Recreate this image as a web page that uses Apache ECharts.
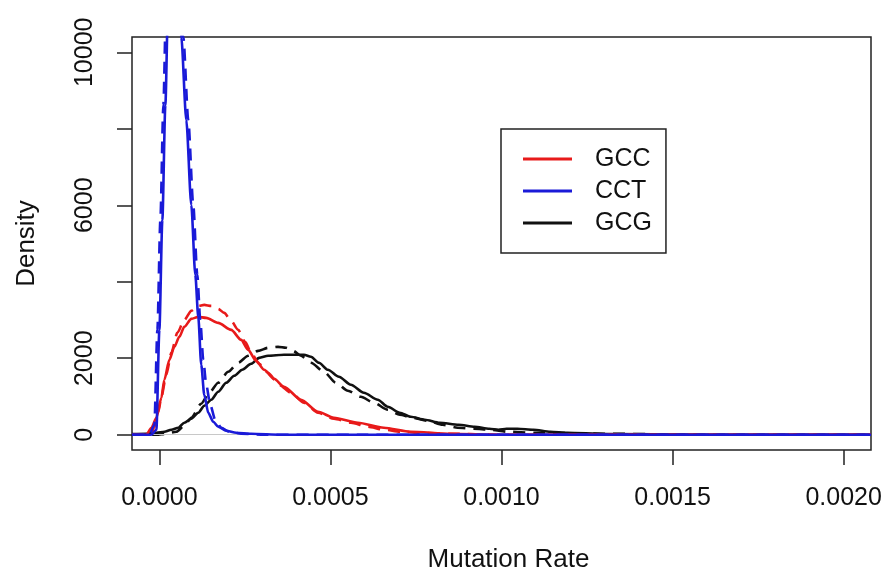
<!DOCTYPE html>
<html>
<head>
<meta charset="utf-8">
<script src="https://cdn.jsdelivr.net/npm/echarts@6/dist/echarts.min.js"></script>
<style>html,body{margin:0;padding:0;background:#fff;}#c{width:886px;height:571px;}</style>
</head>
<body>
<div id="c"></div>
<script>
// ---- data ----
var seriesNames = ['GCC', 'CCT', 'GCG'];
var xTicks = [0, 0.0005, 0.001, 0.0015, 0.002];
var xTickLabels = ['0.0000', '0.0005', '0.0010', '0.0015', '0.0020'];
var yTicks = [0, 2000, 4000, 6000, 8000, 10000];
var yTickLabels = [0, 2000, 6000, 10000];

// GCC empirical (solid)
var gccX = [-0.00008, -0.000058, -0.000038, -0.000023, -0.0000087, 0.0000058, 0.0000146, 0.0000292, 0.0000437, 0.0000583, 0.0000729, 0.0000933, 0.0001137, 0.0001370, 0.0001720, 0.0002099, 0.0002390, 0.0002595, 0.0002828, 0.0003061, 0.0003353, 0.0003644, 0.0004140, 0.0004636, 0.0005102, 0.0005802, 0.0006560, 0.0007347, 0.0008513, 0.0009971, 0.0013, 0.0016, 0.00208];
var gccY = [0, 0, 0, 183, 444, 966, 1436, 1958, 2298, 2559, 2820, 3029, 3081, 3055, 2924, 2742, 2480, 2219, 1932, 1697, 1462, 1253, 914, 600, 444, 313, 183, 78, 26, 0, 0, 0, 0];
// GCC fitted (dashed)
var gccFitX = [-0.00008, -0.000038, -0.000023, -0.0000146, -0.0000029, 0.0000058, 0.0000204, 0.0000350, 0.0000525, 0.0000729, 0.0000933, 0.0001137, 0.0001312, 0.0001516, 0.0001720, 0.0001895, 0.0002099, 0.0002303, 0.0002507, 0.0002682, 0.0002915, 0.0003178, 0.0003499, 0.0003848, 0.0004227, 0.0004636, 0.0005102, 0.0005598, 0.0006093, 0.0006560, 0.0007055, 0.0007551, 0.0008513, 0.0010, 0.0013, 0.0016, 0.00208];
var gccFitY = [0, 0, 52, 209, 600, 992, 1567, 2141, 2663, 3003, 3238, 3368, 3394, 3368, 3290, 3185, 2977, 2742, 2428, 2141, 1854, 1619, 1306, 1097, 836, 574, 418, 313, 209, 131, 78, 52, 26, 0, 0, 0, 0];

// CCT empirical (solid)
var cctX = [-0.00008, -0.0000233, -0.0000087, 0, 0.0000087, 0.0000175, 0.0000262, 0.0000379, 0.0000525, 0.0000641, 0.0000787, 0.0000933, 0.000105, 0.0001137, 0.0001224, 0.0001312, 0.0001429, 0.0001574, 0.000172, 0.0001953, 0.0002245, 0.0002682, 0.0003557, 0.0006, 0.0010, 0.0015, 0.00208];
var cctY = [0, 0, 130, 2740, 5610, 8620, 11620, 14000, 12140, 10390, 8225, 6005, 4180, 3080, 1830, 1045, 575, 340, 210, 105, 52, 26, 0, 0, 0, 0, 0];
// CCT fitted (dashed)
var cctFitX = [-0.00008, -0.0000292, -0.0000146, -0.0000058, 0.0000029, 0.0000117, 0.0000204, 0.0000321, 0.0000496, 0.0000700, 0.0000845, 0.0000991, 0.0001108, 0.0001195, 0.0001283, 0.0001370, 0.0001487, 0.0001633, 0.0001808, 0.0002041, 0.0002391, 0.0002974, 0.0006, 0.0010, 0.0015, 0.00208];
var cctFitY = [0, 0, 260, 2740, 5610, 8620, 11620, 14200, 12140, 10390, 8225, 6005, 4180, 3000, 1960, 1305, 783, 390, 183, 78, 26, 0, 0, 0, 0, 0];

// GCG empirical (solid)
var gcgX = [-0.00008, -0.0000379, -0.0000087, 0.0000146, 0.0000350, 0.0000554, 0.0000729, 0.0000933, 0.0001137, 0.0001312, 0.0001516, 0.0001720, 0.0001953, 0.0002187, 0.0002420, 0.0002682, 0.0002915, 0.0003178, 0.0003644, 0.0004052, 0.0004227, 0.0004431, 0.0004665, 0.0004927, 0.0005248, 0.0005598, 0.0005977, 0.0006385, 0.0006676, 0.0007026, 0.0007347, 0.0007755, 0.0008192, 0.0008746, 0.0009213, 0.0009644, 0.0009913, 0.0010146, 0.0010466, 0.0010933, 0.0011429, 0.0011924, 0.0013, 0.0016, 0.00208];
var gcgY = [20, 26, 52, 78, 131, 183, 313, 418, 574, 757, 914, 1123, 1358, 1540, 1697, 1854, 2010, 2063, 2089, 2089, 2089, 2037, 1880, 1697, 1514, 1306, 1097, 914, 731, 574, 470, 392, 313, 261, 209, 157, 131, 157, 157, 131, 78, 52, 20, 0, 0];
// GCG fitted (dashed)
var gcgFitX = [-0.00008, -0.0000087, 0.0000204, 0.0000496, 0.0000729, 0.0000933, 0.0001224, 0.0001458, 0.0001720, 0.0002012, 0.0002303, 0.0002595, 0.0002886, 0.0003178, 0.0003469, 0.0003703, 0.0003907, 0.0004140, 0.0004431, 0.0004810, 0.0005160, 0.0005510, 0.0005889, 0.0006268, 0.0006676, 0.0007026, 0.0007405, 0.0007843, 0.0008280, 0.0008717, 0.0009184, 0.0009679, 0.0010175, 0.0010962, 0.0013, 0.0016, 0.00208];
var gcgFitY = [0, 0, 26, 78, 235, 444, 810, 1097, 1358, 1645, 1880, 2063, 2193, 2272, 2298, 2272, 2193, 2063, 1880, 1645, 1358, 1149, 992, 836, 653, 522, 444, 366, 261, 183, 157, 131, 78, 52, 26, 0, 0, 0];

// ---- chart ----
function pairs(xs, ys) { var out = []; for (var i = 0; i < xs.length; i++) out.push([xs[i], ys[i]]); return out; }
var colors = { GCC: '#e81a1a', CCT: '#1a1ad8', GCG: '#111111' };
var font = 'Liberation Sans, Arial, sans-serif';

function lineSeries(name, data, color, dashed, z) {
  return {
    type: 'line', name: name, data: data, showSymbol: false, symbol: 'none',
    smooth: 0.25, smoothMonotone: 'x', clip: true, z: z, animation: false,
    lineStyle: { color: color, width: 2.6, type: dashed ? [12, 8] : 'solid' },
    itemStyle: { color: color }
  };
}

var chart = echarts.init(document.getElementById('c'), null, { renderer: 'canvas' });
chart.setOption({
  animation: false,
  backgroundColor: '#ffffff',
  grid: { left: 132, right: 15, top: 37, bottom: 121, show: true, borderColor: '#222', borderWidth: 1.5, backgroundColor: 'transparent', containLabel: false, outerBoundsMode: 'none' },
  legend: {
    data: seriesNames, orient: 'vertical', left: 501, top: 129,
    icon: 'rect', itemWidth: 49, itemHeight: 3, itemGap: 6,
    padding: [17, 14, 17, 22], borderColor: '#222', borderWidth: 1.5,
    textStyle: { fontFamily: font, fontSize: 25, color: '#111', lineHeight: 26, padding: [0, 0, 0, 18] },
    selectedMode: false
  },
  xAxis: {
    type: 'value', min: -0.00008, max: 0.00208,
    name: 'Mutation Rate', nameLocation: 'middle', nameGap: 97,
    nameTextStyle: { fontFamily: font, fontSize: 26, color: '#111', verticalAlign: 'top', padding: [0, 0, 0, 14] },
    axisLine: { show: false, onZero: false },
    axisTick: { show: true, inside: false, length: 15, lineStyle: { color: '#222', width: 1.5 }, customValues: xTicks },
    axisLabel: {
      fontFamily: font, fontSize: 25, color: '#111', margin: 36, customValues: xTicks,
      formatter: function (v) { for (var i = 0; i < xTicks.length; i++) if (Math.abs(xTicks[i] - v) < 1e-10) return xTickLabels[i]; return ''; }
    },
    splitLine: { show: false }
  },
  yAxis: {
    type: 'value', min: -400, max: 10400,
    name: 'Density', nameLocation: 'middle', nameGap: 92, nameRotate: 90,
    nameTextStyle: { fontFamily: font, fontSize: 26, color: '#111' },
    axisLine: { show: false, onZero: false },
    axisTick: { show: true, inside: false, length: 15, lineStyle: { color: '#222', width: 1.5 }, customValues: yTicks },
    axisLabel: {
      fontFamily: font, fontSize: 25, color: '#111', margin: 34, rotate: 90,
      customValues: yTickLabels, align: 'center', verticalAlign: 'bottom',
      formatter: function (v) { return String(v); }
    },
    splitLine: { show: false }
  },
  series: [
    {
      type: 'line', name: 'zero', data: [], z: 1, silent: true,
      markLine: { silent: true, symbol: 'none', label: { show: false }, lineStyle: { color: '#c8c8c8', width: 1, type: 'solid' }, data: [{ yAxis: 0 }] }
    },
    lineSeries('GCG', pairs(gcgX, gcgY), colors.GCG, false, 3),
    lineSeries('GCG fit', pairs(gcgFitX, gcgFitY), colors.GCG, true, 3),
    lineSeries('GCC', pairs(gccX, gccY), colors.GCC, false, 4),
    lineSeries('GCC fit', pairs(gccFitX, gccFitY), colors.GCC, true, 4),
    lineSeries('CCT', pairs(cctX, cctY), colors.CCT, false, 5),
    lineSeries('CCT fit', pairs(cctFitX, cctFitY), colors.CCT, true, 5)
  ]
});
</script>
</body>
</html>
